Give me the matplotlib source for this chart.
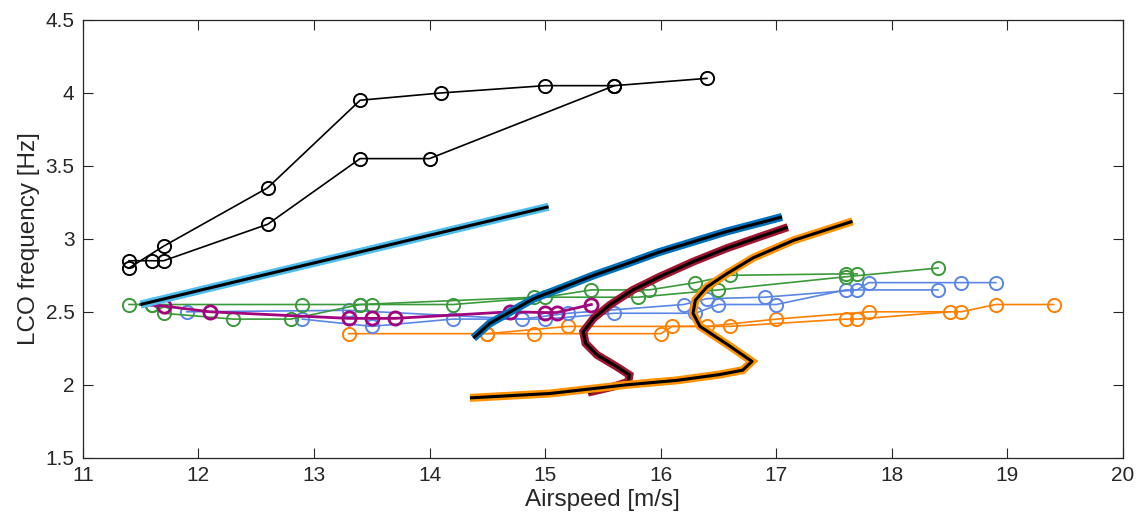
import matplotlib
matplotlib.use("Agg")
import matplotlib.pyplot as plt

plt.rcParams['font.family'] = ['Liberation Sans', 'DejaVu Sans']

# ---- Measured LCO data (marker series) ----
black1_v = [11.4, 11.7, 12.6, 13.4, 14.1, 15.0, 15.6, 16.4]
black1_f = [2.80, 2.95, 3.35, 3.95, 4.00, 4.05, 4.05, 4.10]
black2_v = [11.4, 11.6, 11.7, 12.6, 13.4, 14.0, 15.6]
black2_f = [2.85, 2.85, 2.85, 3.10, 3.55, 3.55, 4.05]

green1_v = [11.4, 11.6, 12.9, 13.4, 13.5, 14.2, 15.0, 15.4, 15.9, 16.3, 16.6, 17.6, 17.7]
green1_f = [2.55, 2.55, 2.55, 2.55, 2.55, 2.55, 2.60, 2.65, 2.65, 2.70, 2.75, 2.76, 2.76]
green2_v = [11.6, 11.7, 12.3, 12.8, 13.4, 14.9, 15.8, 16.5, 17.6, 18.4]
green2_f = [2.55, 2.49, 2.45, 2.45, 2.55, 2.60, 2.60, 2.65, 2.74, 2.80]

blue1_v = [12.9, 13.5, 14.2, 15.0, 15.6, 16.3, 16.5, 17.0, 17.6, 18.4]
blue1_f = [2.45, 2.40, 2.45, 2.45, 2.49, 2.49, 2.55, 2.55, 2.65, 2.65]
blue2_v = [11.9, 13.3, 14.8, 15.2, 16.2, 16.4, 16.9, 17.7, 17.8, 18.6, 18.9]
blue2_f = [2.50, 2.51, 2.45, 2.49, 2.55, 2.59, 2.60, 2.65, 2.70, 2.70, 2.70]

orange1_v = [13.3, 14.5, 14.9, 16.0, 16.1, 16.6, 17.6, 17.7, 18.5]
orange1_f = [2.35, 2.35, 2.35, 2.35, 2.40, 2.40, 2.45, 2.45, 2.50]
orange2_v = [14.5, 15.2, 16.4, 17.0, 17.8, 18.6, 18.9, 19.4]
orange2_f = [2.35, 2.40, 2.40, 2.45, 2.50, 2.50, 2.55, 2.55]

purple_v = [11.5, 11.7, 12.1, 13.3, 13.5, 13.7, 14.7, 15.0, 15.1, 15.4]
purple_f = [2.55, 2.54, 2.50, 2.455, 2.455, 2.455, 2.50, 2.495, 2.495, 2.55]

# ---- Predicted LCO branches (thick curves) ----
cyan_v = [11.5, 15.03]
cyan_f = [2.55, 3.22]

blue_curve_v = [14.38, 14.52, 14.70, 14.90, 15.13, 15.42, 15.71, 15.99, 16.28, 16.57, 17.05]
blue_curve_f = [2.32, 2.42, 2.50, 2.59, 2.66, 2.75, 2.83, 2.91, 2.98, 3.05, 3.15]

red_curve_v = [17.10, 16.86, 16.57, 16.28, 15.99, 15.76, 15.56, 15.42, 15.33, 15.35,
               15.45, 15.62, 15.73, 15.72, 15.59, 15.37]
red_curve_f = [3.08, 3.015, 2.935, 2.843, 2.74, 2.65, 2.547, 2.456, 2.364, 2.284,
               2.204, 2.124, 2.067, 2.021, 1.987, 1.946]

orange_curve_v = [14.35, 15.04, 15.71, 16.14, 16.51, 16.71, 16.79, 16.57, 16.34, 16.28,
                  16.30, 16.40, 16.57, 16.80, 17.15, 17.66]
orange_curve_f = [1.91, 1.94, 2.00, 2.03, 2.07, 2.10, 2.16, 2.28, 2.40, 2.49,
                  2.58, 2.67, 2.76, 2.87, 2.99, 3.12]

C_BLACK = '#000000'
C_GREEN = '#3A9A3A'
C_BLUE = '#5A86E6'
C_ORANGE = '#FF8000'
C_PURPLE = '#A1047C'
C_CYAN = '#4DBEEE'
C_DBLUE = '#0072BD'
C_DRED = '#A2142F'
C_ORANGE2 = '#FF9200'

fig = plt.figure(figsize=(11.43, 5.18), dpi=100)
ax = fig.add_axes([0.0724, 0.1164, 0.9101, 0.845])

ms = 9.5
thin = dict(marker='o', markerfacecolor='none', markersize=ms, linewidth=1.2, markeredgewidth=1.4)

for v, f, c in [(orange1_v, orange1_f, C_ORANGE), (orange2_v, orange2_f, C_ORANGE),
                (blue1_v, blue1_f, C_BLUE), (blue2_v, blue2_f, C_BLUE),
                (green1_v, green1_f, C_GREEN), (green2_v, green2_f, C_GREEN),
                (black1_v, black1_f, C_BLACK), (black2_v, black2_f, C_BLACK)]:
    ax.plot(v, f, color=c, markeredgecolor=c, **thin)

ax.plot(purple_v, purple_f, color=C_PURPLE, marker='o', markerfacecolor='none',
        markeredgecolor=C_PURPLE, markersize=ms, linewidth=2.0, markeredgewidth=2.0,
        markevery=list(range(1, len(purple_v))))

for v, f, c in [(cyan_v, cyan_f, C_CYAN), (blue_curve_v, blue_curve_f, C_DBLUE),
                (red_curve_v, red_curve_f, C_DRED), (orange_curve_v, orange_curve_f, C_ORANGE2)]:
    ax.plot(v, f, color=c, linewidth=5.8, solid_capstyle='butt', solid_joinstyle='miter')
    ax.plot(v, f, color='black', linewidth=2.2, solid_capstyle='butt')

ax.set_xlim(11, 20)
ax.set_ylim(1.5, 4.5)
ax.set_xticks(range(11, 21))
ax.set_yticks([1.5, 2, 2.5, 3, 3.5, 4, 4.5])
ax.set_yticklabels(['1.5', '2', '2.5', '3', '3.5', '4', '4.5'])
ax.tick_params(direction='in', length=7, width=0.8, top=True, right=True,
               labelsize=15, colors='#262626', pad=6)
for s in ax.spines.values():
    s.set_color('#262626')
    s.set_linewidth(0.9)

ax.set_xlabel('Airspeed [m/s]', fontsize=17.5, color='#262626', labelpad=3)
ax.set_ylabel('LCO frequency [Hz]', fontsize=17.5, color='#262626', labelpad=4)

fig.savefig('out.png', dpi=100)
